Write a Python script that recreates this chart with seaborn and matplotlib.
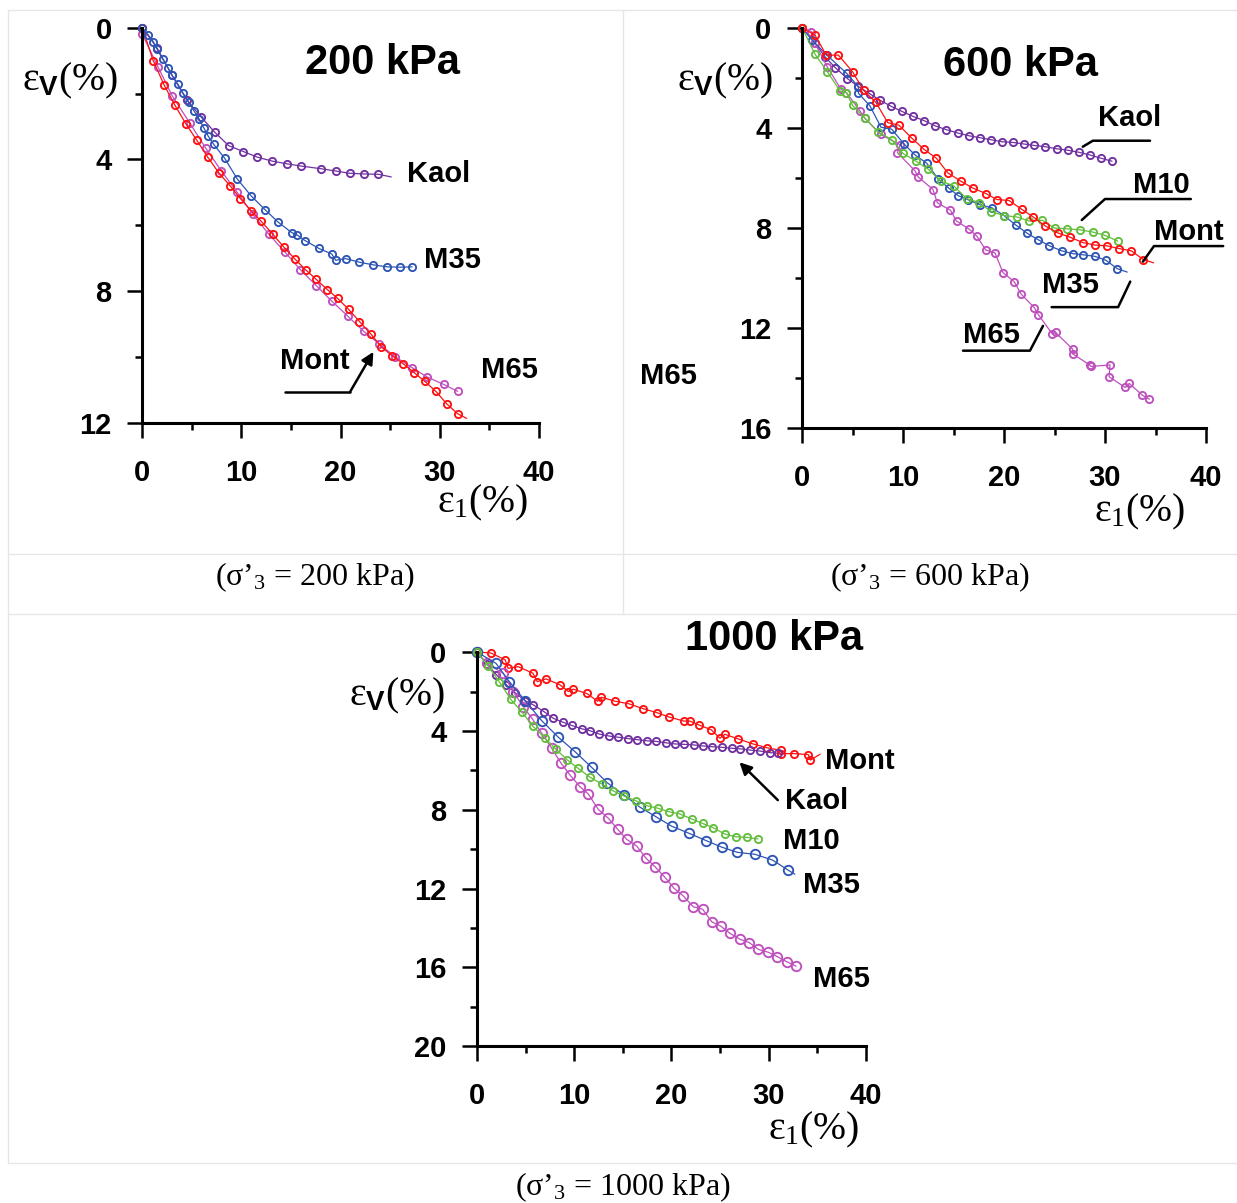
import matplotlib
matplotlib.use('Agg')
import matplotlib.pyplot as plt
import seaborn as sns
from matplotlib.lines import Line2D

# ========== Data: 200 kPa ==========
p200_kaol_x = [0, 1.5, 3.0, 4.5, 5.9, 7.3, 8.7, 10.2, 11.6, 13.1, 14.55, 16.0, 18.0, 19.5, 20.9, 22.4, 23.8]
p200_kaol_y = [0, 0.62, 1.45, 2.2, 2.7, 3.17, 3.58, 3.76, 3.93, 4.05, 4.13, 4.2, 4.28, 4.35, 4.42, 4.44, 4.45]
p200_kaol_end = (25.1, 4.53)

p200_m35_x = [0, 0.6, 1.1, 1.5, 2.07, 2.6, 3.0, 3.6, 4.1, 4.7, 5.2, 5.7, 6.2, 6.66, 7.2, 8.3, 9.57, 10.96,
              12.36, 13.68, 15.07, 15.6, 16.4, 17.8, 19.1, 19.5, 20.5, 21.9, 23.3, 24.7, 26.0, 27.2]
p200_m35_y = [0, 0.22, 0.42, 0.66, 0.96, 1.22, 1.44, 1.72, 1.98, 2.26, 2.52, 2.76, 3.04, 3.3, 3.54, 3.96, 4.59, 5.1,
              5.52, 5.9, 6.22, 6.29, 6.46, 6.7, 6.87, 7.06, 7.01, 7.12, 7.2, 7.26, 7.27, 7.26]

p200_mont_x = [0, 1.1, 2.2, 3.3, 4.4, 5.5, 6.6, 7.7, 8.85, 9.9, 10.96, 12.0, 13.16, 14.27, 15.35, 16.47, 17.5,
               18.66, 19.7, 20.8, 21.9, 23.05, 24.1, 25.2, 26.3, 27.4, 28.5, 29.6, 30.7, 31.8]
p200_mont_y = [0, 1.0, 1.74, 2.36, 2.92, 3.42, 3.93, 4.4, 4.8, 5.19, 5.55, 5.88, 6.27, 6.66, 7.01, 7.35, 7.63,
               7.95, 8.22, 8.55, 8.92, 9.3, 9.69, 9.96, 10.2, 10.47, 10.74, 11.04, 11.42, 11.72]
p200_mont_end = (32.7, 11.86)

p200_m65_x = [0, 1.6, 3.0, 4.8, 6.4, 7.97, 9.57, 11.16, 12.76, 14.35, 15.95, 17.55, 19.14, 20.73, 22.33,
              23.9, 25.5, 27.2, 28.7, 30.4, 31.8]
p200_m65_y = [0.2, 1.2, 2.06, 2.9, 3.66, 4.35, 5.0, 5.67, 6.27, 6.8, 7.35, 7.83, 8.31, 8.76, 9.22,
              9.6, 9.99, 10.32, 10.6, 10.83, 11.04]

# ========== Data: 600 kPa ==========
p600_kaol_x = [0, 1.3, 2.3, 3.3, 4.5, 5.5, 6.7, 7.7, 8.8, 9.9, 11.0, 12.1, 13.2, 14.3, 15.4, 16.5, 17.6, 18.7,
               19.8, 20.9, 21.95, 23.0, 24.1, 25.2, 26.3, 27.4, 28.5, 29.6, 30.7]
p600_kaol_y = [0, 0.63, 1.18, 1.6, 2.04, 2.33, 2.64, 2.9, 3.14, 3.35, 3.55, 3.72, 3.93, 4.08, 4.21, 4.32, 4.4, 4.48,
               4.56, 4.59, 4.65, 4.71, 4.76, 4.84, 4.9, 4.98, 5.09, 5.22, 5.34]

p600_mont_x = [0, 1.3, 2.4, 3.6, 5.0, 6.1, 7.3, 8.5, 9.6, 10.9, 12.1, 13.3, 14.45, 15.7, 16.9, 18.2, 19.3, 20.5,
               21.75, 22.9, 24.1, 25.3, 26.5, 27.8, 29.0, 30.2, 31.4, 32.6, 33.8]
p600_mont_y = [0, 0.31, 1.1, 1.1, 1.76, 2.51, 2.98, 3.8, 3.9, 4.43, 4.87, 5.22, 5.81, 6.13, 6.41, 6.63, 6.87, 6.91,
               7.26, 7.57, 7.93, 8.2, 8.37, 8.59, 8.69, 8.72, 8.83, 8.92, 9.27]
p600_mont_end = (34.8, 9.4)

p600_m35_x = [0, 1.0, 2.44, 4.42, 5.58, 5.58, 6.73, 7.82, 8.88, 10.1, 11.19, 12.35, 13.5, 14.55, 15.48, 16.47,
              17.62, 18.8, 20.0, 21.2, 22.3, 23.4, 24.5, 25.7, 26.8, 27.85, 29.0, 30.1, 31.2]
p600_m35_y = [0, 0.5, 1.09, 1.83, 2.36, 2.62, 3.13, 3.98, 4.06, 4.65, 5.09, 5.42, 6.06, 6.42, 6.72, 6.88,
              7.08, 7.2, 7.51, 7.9, 8.22, 8.48, 8.72, 8.92, 9.03, 9.08, 9.14, 9.3, 9.63]
p600_m35_end = (32.2, 9.77)

p600_m10_x = [0, 1.3, 2.5, 3.8, 4.4, 5.0, 6.2, 7.5, 8.9, 10.0, 11.3, 12.5, 13.75, 15.0, 16.3, 17.55, 18.7,
              20.0, 21.3, 22.5, 23.8, 25.0, 26.25, 27.5, 28.8, 30.0, 31.25]
p600_m10_y = [0, 1.07, 1.76, 2.55, 2.6, 3.11, 3.61, 4.16, 4.48, 5.03, 5.34, 5.66, 6.13, 6.32, 6.83, 6.99, 7.35,
              7.51, 7.57, 7.73, 7.7, 8.01, 8.04, 8.08, 8.17, 8.3, 8.53]

p600_m65_x = [0, 0.94, 1.25, 2.5, 3.87, 4.4, 5.74, 6.2, 7.8, 9.7, 9.45, 11.2, 11.5, 12.97, 13.4, 14.7, 15.3,
              16.5, 17.3, 18.2, 19.1, 19.9, 21.0, 21.7, 23.0, 23.4, 24.8, 25.1, 26.8, 26.8, 28.5, 28.6, 30.5,
              30.4, 32.0, 32.4, 33.7, 34.4]
p600_m65_y = [0, 0.16, 0.6, 1.57, 2.47, 2.6, 3.33, 3.61, 4.27, 4.68, 5.0, 5.73, 5.97, 6.47, 7.0, 7.3, 7.73,
              8.04, 8.33, 8.89, 9.0, 9.79, 10.15, 10.65, 11.19, 11.47, 12.25, 12.18, 12.85, 13.04, 13.48, 13.54, 13.48,
              13.95, 14.38, 14.22, 14.69, 14.85]

# ========== Data: 1000 kPa ==========
p1000_mont_x = [0, 1.4, 2.9, 3.2, 4.25, 5.75, 6.2, 7.1, 8.5, 9.4, 9.9, 11.3, 12.4, 12.8, 14.2, 15.6, 17.1, 18.5,
                19.8, 21.3, 21.9, 22.8, 24.1, 25.0, 25.5, 26.9, 28.4, 29.8, 31.3, 31.3, 32.6, 34.1, 34.3]
p1000_mont_y = [0, 0.04, 0.39, 0.82, 0.74, 1.07, 1.5, 1.36, 1.65, 2.0, 1.88, 2.1, 2.49, 2.29, 2.49, 2.62, 2.87, 3.07,
                3.3, 3.5, 3.5, 3.69, 3.94, 4.37, 4.17, 4.41, 4.66, 4.85, 4.99, 5.15, 5.15, 5.2, 5.48]
p1000_mont_end = (35.3, 5.18)

p1000_kaol_x = [0, 1.0, 2.0, 3.0, 3.91, 4.94, 5.8, 6.89, 7.85, 8.81, 9.74, 10.77, 11.63, 12.58, 13.61, 14.54,
                15.57, 16.5, 17.46, 18.42, 19.4, 20.4, 21.3, 22.3, 23.2, 24.2, 25.2, 26.2, 27.1, 28.1, 29.1, 30.1, 31.0]
p1000_kaol_y = [0, 0.6, 1.15, 1.65, 2.06, 2.46, 2.68, 3.02, 3.36, 3.55, 3.72, 3.89, 3.99, 4.16, 4.26, 4.32,
                4.39, 4.44, 4.5, 4.53, 4.6, 4.66, 4.68, 4.71, 4.76, 4.8, 4.83, 4.88, 4.91, 4.97, 5.02, 5.1, 5.13]

p1000_m10_x = [0, 1.16, 2.29, 3.47, 4.6, 5.73, 7.0, 8.13, 9.29, 10.4, 11.63, 12.83, 13.96, 15.12, 16.36, 17.46,
               18.6, 19.74, 20.85, 22.1, 23.2, 24.3, 25.5, 26.6, 27.8, 28.9]
p1000_m10_y = [0, 0.71, 1.5, 2.4, 3.02, 3.75, 4.37, 4.93, 5.47, 5.9, 6.35, 6.69, 7.03, 7.3, 7.55, 7.79,
               7.92, 8.1, 8.21, 8.47, 8.69, 8.91, 9.23, 9.37, 9.4, 9.48]

p1000_m35_x = [0, 1.95, 3.33, 4.94, 6.66, 8.37, 10.08, 11.8, 13.4, 15.12, 16.77, 18.4, 20.05, 21.85, 23.6, 25.2,
               26.8, 28.6, 30.4, 31.97]
p1000_m35_y = [0, 0.57, 1.5, 2.46, 3.48, 4.32, 5.05, 5.85, 6.63, 7.25, 7.87, 8.35, 8.84, 9.2, 9.57, 9.9,
               10.16, 10.26, 10.55, 11.05]
p1000_m35_end = (32.7, 11.27)

p1000_m65_x = [0, 1.0, 2.7, 3.73, 4.76, 5.73, 6.66, 7.69, 8.61, 9.57, 10.6, 11.45, 12.48, 13.51, 14.47, 15.4,
               16.43, 17.39, 18.31, 19.34, 20.27, 21.22, 22.25, 23.22, 24.15, 25.07, 26.03, 27.06, 28.01, 28.94,
               29.97, 30.9, 31.86, 32.82]
p1000_m65_y = [0, 0.57, 1.08, 2.01, 2.77, 3.41, 4.12, 4.88, 5.61, 6.24, 6.83, 7.2, 7.98, 8.43, 8.99, 9.5,
               9.84, 10.46, 10.89, 11.43, 11.98, 12.37, 12.92, 13.05, 13.68, 13.9, 14.27, 14.57, 14.74, 15.08,
               15.23, 15.45, 15.71, 15.93]

# ========== Colors / fonts ==========
C_KAOL = '#7030A0'
C_M35 = '#2E55B4'
C_MONT = '#FF1010'
C_M65 = '#BE50BE'
C_M10 = '#62BE3C'

sns.set_theme(style='white')
plt.rcParams['font.family'] = ['Liberation Sans', 'DejaVu Sans']
plt.rcParams['text.color'] = 'black'
plt.rcParams['axes.labelcolor'] = 'black'
plt.rcParams['xtick.color'] = 'black'
plt.rcParams['ytick.color'] = 'black'
plt.rcParams['mathtext.fontset'] = 'custom'
plt.rcParams['mathtext.rm'] = 'Liberation Serif'
plt.rcParams['mathtext.it'] = 'Liberation Serif:italic'
plt.rcParams['mathtext.bf'] = 'Liberation Sans:bold'

W, H = 1237, 1203
fig = plt.figure(figsize=(W / 100, H / 100), dpi=100)
fig.patch.set_facecolor('white')


def px(x, y):
    return x / W, 1 - y / H


# table grid lines
grid_c = '#E6E6E6'
for (x0, y0, x1, y1) in [(8, 10, 1237, 10), (8, 554, 1237, 554), (8, 614, 1237, 614), (8, 1163, 1237, 1163),
                         (8, 10, 8, 1163), (623, 10, 623, 614)]:
    a, b = px(x0, y0)
    c, d = px(x1, y1)
    fig.add_artist(Line2D([a, c], [b, d], color=grid_c, lw=1.0))


def make_axes(box, ymax):
    l, t, r, b = box
    ax = fig.add_axes([l / W, 1 - b / H, (r - l) / W, (b - t) / H])
    ax.set_facecolor('none')
    ax.set_xlim(0, 40)
    ax.set_ylim(ymax, 0)
    ax.set_xticks([0, 10, 20, 30, 40])
    ax.set_xticks([5, 15, 25, 35], minor=True)
    ax.set_yticks(list(range(0, ymax + 1, 4)))
    ax.set_yticks(list(range(2, ymax, 4)), minor=True)
    for s in ['top', 'right']:
        ax.spines[s].set_visible(False)
    for s in ['left', 'bottom']:
        ax.spines[s].set_linewidth(2.2)
        ax.spines[s].set_color('black')
    ax.tick_params(which='major', direction='out', length=11, width=1.8, color='black',
                   labelsize=21, labelcolor='black', left=True, bottom=True)
    ax.tick_params(which='minor', direction='out', length=5, width=1.8, color='black', left=True, bottom=True)
    ax.tick_params(axis='y', which='major', pad=11)
    ax.tick_params(axis='x', which='major', pad=15)
    for lab in ax.get_xticklabels() + ax.get_yticklabels():
        lab.set_fontweight('bold')
    return ax


def draw(ax, xs, ys, color, ms=5.2, end=None):
    lx, ly = list(xs), list(ys)
    if end is not None:
        lx.append(end[0])
        ly.append(end[1])
    sns.lineplot(x=lx, y=ly, ax=ax, color=color, lw=0.9, marker='o', ms=ms, mfc='none', mec=color,
                 mew=1.35, markevery=list(range(len(xs))), sort=False, estimator=None, clip_on=False)
    ax.set_xlabel('')
    ax.set_ylabel('')


lab_kw = dict(fontsize=21, fontweight='bold', color='black', ha='left', va='center')
ylab = r'$\mathrm{ε}_{\mathbf{V}}\mathrm{(\%)}$'
xlab = r'$\mathrm{ε}_{\mathrm{1}}\mathrm{(\%)}$'
ax_lab_kw = dict(fontsize=28.5, ha='left', va='center', color='black')
cap_kw = dict(fontsize=23, family='Liberation Serif', ha='center', va='center', color='black')

# ---------- 200 kPa ----------
ax1 = make_axes((142.3, 27.7, 539, 423), 12)
draw(ax1, p200_kaol_x, p200_kaol_y, C_KAOL, end=p200_kaol_end)
draw(ax1, p200_m65_x, p200_m65_y, C_M65)
draw(ax1, p200_mont_x, p200_mont_y, C_MONT, end=p200_mont_end)
draw(ax1, p200_m35_x, p200_m35_y, C_M35)
ax1.text(24.2, 1.07, '200 kPa', fontsize=30, fontweight='bold', ha='center', va='center')
ax1.text(26.7, 4.44, 'Kaol', **lab_kw)
ax1.text(28.4, 7.04, 'M35', **lab_kw)
ax1.text(34.2, 10.38, 'M65', **lab_kw)
ax1.text(13.9, 10.12, 'Mont', **lab_kw)
ax1.plot([14.35, 20.94], [11.06, 11.06], color='black', lw=1.8, clip_on=False)
ax1.annotate('', xy=(23.3, 9.84), xytext=(20.94, 11.06),
             arrowprops=dict(arrowstyle='-|>', color='black', lw=1.8, mutation_scale=18, shrinkA=0, shrinkB=0))
fig.text(*px(22, 81), ylab, **ax_lab_kw)
fig.text(*px(437, 503), xlab, **ax_lab_kw)
fig.text(*px(315, 577), '(σ’$_{3}$ = 200 kPa)', **cap_kw)

# ---------- 600 kPa ----------
ax2 = make_axes((802, 27.6, 1206, 428), 16)
draw(ax2, p600_kaol_x, p600_kaol_y, C_KAOL)
draw(ax2, p600_m65_x, p600_m65_y, C_M65)
draw(ax2, p600_m35_x, p600_m35_y, C_M35, end=p600_m35_end)
draw(ax2, p600_m10_x, p600_m10_y, C_M10)
draw(ax2, p600_mont_x, p600_mont_y, C_MONT, end=p600_mont_end)
ax2.text(21.65, 1.49, '600 kPa', fontsize=30, fontweight='bold', ha='center', va='center')
leader = dict(color='black', lw=1.8, clip_on=False)
ax2.text(29.3, 3.61, 'Kaol', **lab_kw)
ax2.plot([27.8, 28.8, 34.46], [4.76, 4.52, 4.52], **leader)
ax2.text(32.8, 6.29, 'M10', **lab_kw)
ax2.plot([27.7, 30.0, 38.5], [7.69, 6.85, 6.85], **leader)
ax2.text(34.85, 8.15, 'Mont', **lab_kw)
ax2.plot([33.76, 34.85, 41.7], [9.35, 8.73, 8.73], **leader)
ax2.text(23.73, 10.28, 'M35', **lab_kw)
ax2.plot([24.72, 31.3, 32.5], [11.17, 11.17, 10.15], **leader)
ax2.text(15.94, 12.28, 'M65', **lab_kw)
ax2.plot([15.94, 22.57, 23.86], [12.91, 12.91, 11.92], **leader)
ax2.text(-16.0, 13.92, 'M65', **lab_kw)
fig.text(*px(677, 80.7), ylab, **ax_lab_kw)
fig.text(*px(1094, 512), xlab, **ax_lab_kw)
fig.text(*px(930, 577), '(σ’$_{3}$ = 600 kPa)', **cap_kw)

# ---------- 1000 kPa ----------
ax3 = make_axes((477, 652.1, 865.8, 1046.3), 20)
draw(ax3, p1000_mont_x, p1000_mont_y, C_MONT, end=p1000_mont_end)
draw(ax3, p1000_kaol_x, p1000_kaol_y, C_KAOL)
draw(ax3, p1000_m65_x, p1000_m65_y, C_M65, ms=6.8)
draw(ax3, p1000_m35_x, p1000_m35_y, C_M35, ms=6.8, end=p1000_m35_end)
draw(ax3, p1000_m10_x, p1000_m10_y, C_M10)
ax3.text(30.56, -0.68, '1000 kPa', fontsize=30, fontweight='bold', ha='center', va='center')
ax3.text(35.8, 5.52, 'Mont', **lab_kw)
ax3.text(31.73, 7.55, 'Kaol', **lab_kw)
ax3.annotate('', xy=(27.0, 5.59), xytext=(30.95, 7.51),
             arrowprops=dict(arrowstyle='-|>', color='black', lw=1.8, mutation_scale=18, shrinkA=0, shrinkB=0))
ax3.text(31.53, 9.57, 'M10', **lab_kw)
ax3.text(33.5, 11.84, 'M35', **lab_kw)
ax3.text(34.57, 16.6, 'M65', **lab_kw)
fig.text(*px(349, 696), ylab, **ax_lab_kw)
fig.text(*px(768, 1130), xlab, **ax_lab_kw)
fig.text(*px(623, 1187), '(σ’$_{3}$ = 1000 kPa)', **cap_kw)

fig.savefig('out.png', dpi=100, facecolor='white')
